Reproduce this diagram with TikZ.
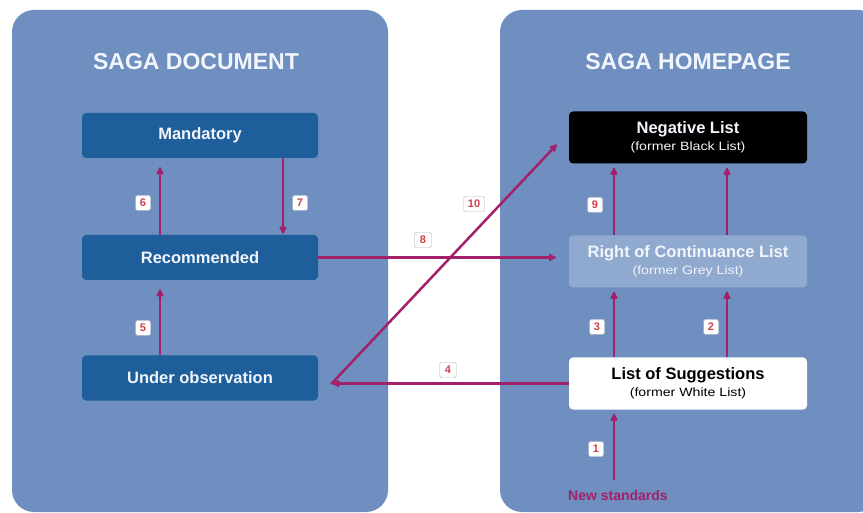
\documentclass[tikz,border=0pt]{standalone}
\usepackage{fontspec}
\setmainfont{Liberation Sans}
\newfontfamily\subfont{Liberation Sans}[FakeStretch=1.18]
\usetikzlibrary{arrows.meta}
\definecolor{panel}{HTML}{6E8FC0}
\definecolor{dbox}{HTML}{1E5E9A}
\definecolor{gbox}{HTML}{90A9CF}
\definecolor{lnk}{HTML}{A3206A}
\definecolor{num}{HTML}{D0404A}
\definecolor{titlec}{HTML}{F2F5FB}
\begin{document}
\begin{tikzpicture}[x=1pt,y=-1pt,
  panelbox/.style={fill=panel, rounded corners=22pt},
  titletext/.style={text=titlec, font=\fontsize{23}{26}\selectfont\bfseries, inner sep=0pt},
  lbox/.style={fill=dbox, rounded corners=4pt, minimum width=236pt, minimum height=45pt, text=titlec, font=\fontsize{16.5}{19}\selectfont\bfseries, inner sep=0pt},
  rbox/.style={rounded corners=4pt, minimum width=238pt, minimum height=52pt, font=\fontsize{16.5}{19}\selectfont\bfseries, inner sep=0pt, align=center},
  lab/.style={draw=black!30, fill=white, rounded corners=1.5pt, inner sep=0pt, minimum width=15pt, minimum height=15pt, text=num, font=\fontsize{11}{11}\selectfont\bfseries},
  link/.style={draw=lnk, line width=2.5pt, -{Latex[length=9pt,width=9pt,round]}},
  newstd/.style={text=lnk, font=\fontsize{14}{16}\selectfont\bfseries, inner sep=0pt}
]
\useasboundingbox (0,0) rectangle (863,513);
\fill[white] (0,0) rectangle (863,513);
\fill[panelbox] (12,10) rectangle (388,512);
\fill[panelbox] (500,10) rectangle (880,512);

\node[titletext] (t1) at (196,62) {SAGA DOCUMENT};
\node[titletext] (t2) at (688,62) {SAGA HOMEPAGE};

\node[lbox] (mand) at (200,135.5) {Mandatory};
\node[lbox] (rec) at (200,257.5) {Recommended};
\node[lbox] (uo) at (200,378) {Under observation};

\node[rbox, fill=black, text=titlec] (neg) at (688,137.5) {Negative List\\[-2pt]{\subfont\mdseries\fontsize{12}{14}\selectfont (former Black List)}};
\node[rbox, fill=gbox, text=titlec] (roc) at (688,261.5) {Right of Continuance List\\[-2pt]{\subfont\mdseries\fontsize{12}{14}\selectfont (former Grey List)}};
\node[rbox, fill=white, text=black] (los) at (688,383.5) {List of Suggestions\\[-2pt]{\subfont\mdseries\fontsize{12}{14}\selectfont (former White List)}};

\node[newstd] (ns) at (618,495) {New standards};
\coordinate (c1) at (614,480);

% left column
\draw[link, shorten >=9pt] ([xshift=-40pt]rec.north) -- ([xshift=-40pt]mand.south);
\draw[link, shorten >=1pt] ([xshift=83pt]mand.south) -- ([xshift=83pt]rec.north);
\draw[link, shorten >=9pt] ([xshift=-40pt]uo.north) -- ([xshift=-40pt]rec.south);

% right column
\draw[link, shorten >=4pt] ([xshift=-74pt]roc.north) -- ([xshift=-74pt]neg.south);
\draw[link, shorten >=4pt] ([xshift=39pt]roc.north) -- ([xshift=39pt]neg.south);
\draw[link, shorten >=4pt] ([xshift=-74pt]los.north) -- ([xshift=-74pt]roc.south);
\draw[link, shorten >=4pt] ([xshift=39pt]los.north) -- ([xshift=39pt]roc.south);
\draw[link, shorten >=4pt] (c1) -- (c1 |- los.south);

% cross links
\draw[link, shorten >=13pt] (rec.east) -- (rec.east -| roc.west);
\draw[link, shorten >=14pt] (los.west) -- (los.west -| uo.east);
\draw[link] ([xshift=13pt,yshift=-6pt]uo.east) -- ([xshift=-12pt,yshift=-7pt]neg.west);

% labels
\node[lab] (l6) at (143,203) {6};
\node[lab] (l7) at (300,203) {7};
\node[lab] (l5) at (143,328) {5};
\node[lab, minimum width=17pt] (l8) at (423,240) {8};
\node[lab, minimum width=21pt] (l10) at (474,204) {10};
\node[lab, minimum width=17pt] (l4) at (448,370) {4};
\node[lab] (l9) at (595,205) {9};
\node[lab] (l3) at (597,327) {3};
\node[lab] (l2) at (711,327) {2};
\node[lab] (l1) at (596,449) {1};
\end{tikzpicture}
\end{document}
